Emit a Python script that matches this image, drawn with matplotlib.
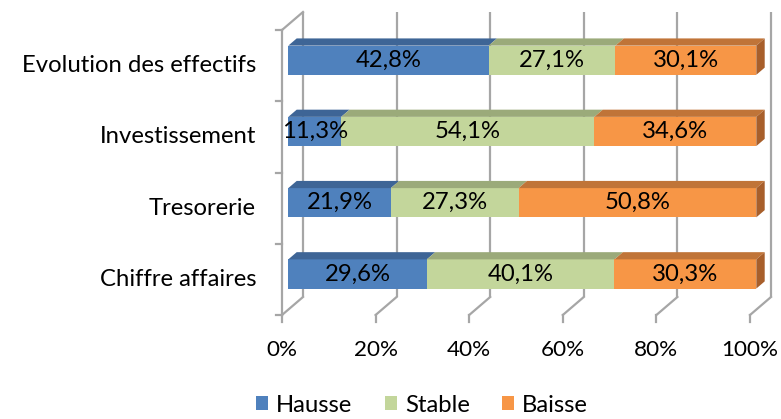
import matplotlib
matplotlib.use("Agg")
import matplotlib.pyplot as plt
from matplotlib.patches import Polygon, Patch

categories = ["Chiffre affaires", "Tresorerie", "Investissement", "Evolution des effectifs"]
series = ["Hausse", "Stable", "Baisse"]
hausse = [29.6, 21.9, 11.3, 42.8]
stable = [40.1, 27.3, 54.1, 27.1]
baisse = [30.3, 50.8, 34.6, 30.1]
xticks = [0, 20, 40, 60, 80, 100]
xtick_labels = ["0%", "20%", "40%", "60%", "80%", "100%"]

front_cols = ["#4F81BD", "#C3D69B", "#F79646"]
top_cols = ["#3E6596", "#9BAA7A", "#C07438"]
side_col = "#A85F2B"
grid_col = "#A6A6A6"
FONT = "Lato"
FS = 17.2

W, H = 781, 419
fig = plt.figure(figsize=(W / 100, H / 100), dpi=100)
ax = fig.add_axes([0, 0, 1, 1])
# pixel mapping: x=0% at px 282, 100% at px 750 ; y=0 at py 315, 71.25 px per category
sx = 4.68
sy = 71.25
ax.set_xlim((0 - 282) / sx, (W - 282) / sx)
ax.set_ylim((315 - H) / sy, 315 / sy)
ax.axis("off")

dx = 21 / sx     # depth vector in data units
dy = 18 / sy
n = len(categories)

# back wall gridlines and floor diagonals
for t, lab in zip(xticks, xtick_labels):
    ax.plot([t + dx, t + dx], [dy, n + dy], color=grid_col, lw=1.6, solid_capstyle="butt", zorder=1)
    ax.plot([t, t + dx], [0, dy], color=grid_col, lw=1.6, zorder=1)
    ax.plot([t, t], [0, -0.1], color=grid_col, lw=1.6, zorder=1)
    ax.text(t, -35 / sy, lab, ha="center", va="center",
            fontsize=16.2, family=FONT, color="#000000")
# left wall
ax.plot([0, 0], [0, n], color=grid_col, lw=1.6, zorder=1)
ax.plot([0, dx], [n, n + dy], color=grid_col, lw=1.6, zorder=1)
for k in range(n + 1):
    ax.plot([-6 / sx, 0], [k, k], color=grid_col, lw=1.6, zorder=1)

# bars
f0, f1 = 0.3, 0.7
h = 0.41
vals = [hausse, stable, baisse]
for i, cat in enumerate(categories):
    yb = i + 0.5 - h / 2 + f0 * dy
    yt = yb + h
    ox = f0 * dx
    ddx = (f1 - f0) * dx
    ddy = (f1 - f0) * dy
    left = 0
    for s in range(3):
        v = vals[s][i]
        x0 = left + ox
        x1 = left + v + ox
        ax.add_patch(Polygon([(x0, yb), (x1, yb), (x1, yt), (x0, yt)], closed=True,
                             facecolor=front_cols[s], edgecolor="none", zorder=3))
        ax.add_patch(Polygon([(x0, yt), (x1, yt), (x1 + ddx, yt + ddy), (x0 + ddx, yt + ddy)],
                             closed=True, facecolor=top_cols[s], edgecolor="none", zorder=3))
        if s == 2:
            ax.add_patch(Polygon([(x1, yb), (x1 + ddx, yb + ddy), (x1 + ddx, yt + ddy), (x1, yt)],
                                 closed=True, facecolor=side_col, edgecolor="none", zorder=3))
        ax.text((x0 + x1) / 2, (yb + yt) / 2, f"{v:.1f}%".replace(".", ","), ha="center",
                va="center", fontsize=FS, family=FONT, color="#000000", zorder=5)
        left += v
    ax.text(-26 / sx, i + 0.5, cat, ha="right", va="center", fontsize=FS,
            family=FONT, color="#000000")

handles = [Patch(facecolor=c, edgecolor="none", label=l) for c, l in zip(front_cols, series)]
leg = ax.legend(handles=handles, loc="center", bbox_to_anchor=(422 / W, 1 - 405 / H),
                ncol=3, frameon=False, handlelength=0.5, handleheight=0.5,
                handletextpad=0.35, columnspacing=1.35, borderaxespad=0, borderpad=0,
                prop={"family": FONT, "size": FS})

fig.savefig("out.png", dpi=100)
